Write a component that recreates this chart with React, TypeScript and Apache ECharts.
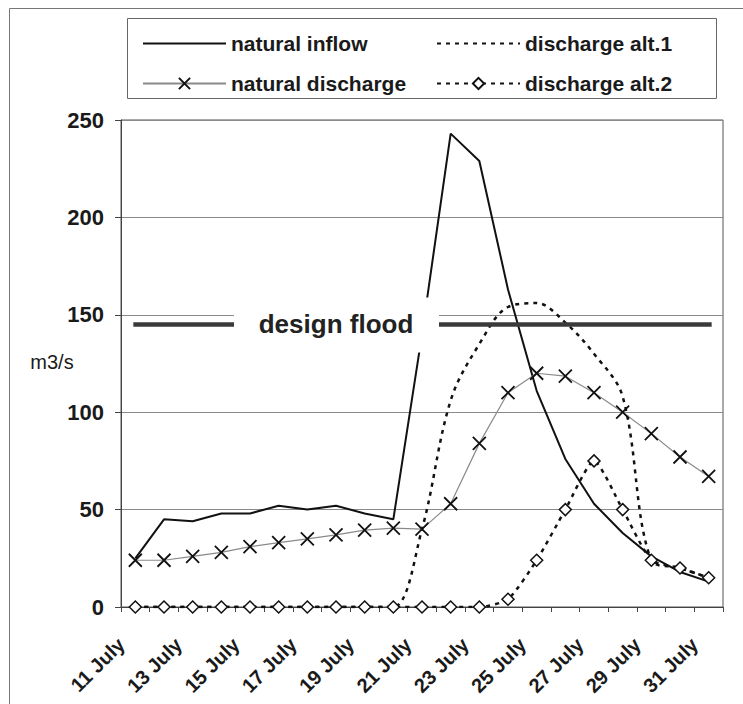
import React, { useEffect, useRef } from "react";
import * as echarts from "echarts";

const categories = [
  "11 July", "12 July", "13 July", "14 July", "15 July", "16 July", "17 July",
  "18 July", "19 July", "20 July", "21 July", "22 July", "23 July", "24 July",
  "25 July", "26 July", "27 July", "28 July", "29 July", "30 July", "31 July",
];
const naturalInflow = [25, 45, 44, 48, 48, 52, 50, 52, 48, 45, 140, 243, 229, 163, 111, 76, 53, 38, 26, 18, 13];
const naturalDischarge = [24, 24, 26, 28, 31, 33, 35, 37, 39.5, 40.5, 40, 53, 84, 110, 120, 118.5, 110, 100, 89, 77, 67];
const dischargeAlt1 = [0, 0, 0, 0, 0, 0, 0, 0, 0, 0, 40, 106, 135, 154, 156, 146, 130, 108, 24, 20, 15];
const dischargeAlt2 = [0, 0, 0, 0, 0, 0, 0, 0, 0, 0, 0, 0, 0, 4, 24, 50, 75, 50, 24, 20, 15];
const designFlood = 145;
const designFloodLabelAt = 6.64;
const yTicks = { min: 0, max: 250, interval: 50 };

const FONT = "'Liberation Sans', Arial, sans-serif";
const X_SYMBOL = "path://M0,0L10,10M10,0L0,10";

export default function App() {
  const ref = useRef<HTMLDivElement>(null);
  useEffect(() => {
    if (!ref.current) return;
    const chart = echarts.init(ref.current, null, { renderer: "svg" });
    const dotted = [4, 5];
    const legendText = { fontFamily: FONT, fontWeight: "bold", fontSize: 21, color: "#1a1a1a", lineHeight: 20 };
    const noSymbol = { opacity: 0 };
    chart.setOption({
      animation: false,
      backgroundColor: "#fff",
      textStyle: { fontFamily: FONT },
      grid: {
        left: 121, right: 20, top: 120, bottom: 97,
        show: true, borderColor: "#555", borderWidth: 1,
      },
      legend: [
        {
          data: [{ name: "natural inflow", itemStyle: noSymbol }, "natural discharge"],
          orient: "vertical", left: 137, top: 28,
          itemWidth: 83, itemHeight: 14, itemGap: 19,
          textStyle: legendText,
          selectedMode: false,
        },
        {
          data: [{ name: "discharge alt.1", itemStyle: noSymbol }, "discharge alt.2"],
          orient: "vertical", left: 431, top: 28,
          itemWidth: 83, itemHeight: 14, itemGap: 19,
          textStyle: legendText,
          selectedMode: false,
        },
      ],
      graphic: [
        { type: "rect", shape: { x: 9.5, y: 8.5, width: 900, height: 900 }, style: { fill: "none", stroke: "#777", lineWidth: 1 }, z: -1, silent: true },
        { type: "rect", shape: { x: 127.5, y: 18.5, width: 589, height: 80 }, style: { fill: "none", stroke: "#666", lineWidth: 1 }, silent: true },
        { type: "text", x: 52, y: 362, style: { text: "m3/s", font: `20px ${FONT}`, fill: "#1a1a1a", align: "center", verticalAlign: "middle" }, silent: true },
      ],
      xAxis: {
        type: "category",
        data: categories,
        boundaryGap: true,
        axisLine: { lineStyle: { color: "#444", width: 1 } },
        axisTick: { show: true, interval: 0, length: 5, lineStyle: { color: "#444" } },
        axisLabel: {
          interval: 1, rotate: 45, margin: 20,
          padding: [0, 20, 0, 0],
          fontFamily: FONT, fontWeight: "bold", fontSize: 20, color: "#1a1a1a",
        },
        splitLine: { show: false },
      },
      yAxis: {
        type: "value",
        min: yTicks.min, max: yTicks.max, interval: yTicks.interval,
        axisLine: { show: true, lineStyle: { color: "#444", width: 1 } },
        axisTick: { show: true, length: 6, lineStyle: { color: "#444" } },
        axisLabel: { margin: 17, fontFamily: FONT, fontWeight: "bold", fontSize: 22, color: "#1a1a1a" },
        splitLine: { show: true, lineStyle: { color: "#8a8a8a", width: 1 } },
      },
      series: [
        {
          name: "natural inflow", type: "line", data: naturalInflow,
          symbol: "none", showSymbol: false,
          lineStyle: { color: "#111", width: 2 },
          itemStyle: { color: "#111" },
          z: 3,
        },
        {
          name: "natural discharge", type: "line", data: naturalDischarge,
          symbol: X_SYMBOL, symbolSize: 13, showSymbol: true,
          lineStyle: { color: "#8a8a8a", width: 1.2 },
          itemStyle: { color: "#111", borderColor: "#111", borderWidth: 1.8 },
          z: 4,
        },
        {
          name: "discharge alt.1", type: "line", data: dischargeAlt1,
          symbol: "none", showSymbol: false, smooth: 0.35,
          lineStyle: { color: "#111", width: 2.5, type: dotted },
          itemStyle: { color: "#111" },
          z: 2,
        },
        {
          name: "discharge alt.2", type: "line", data: dischargeAlt2,
          symbol: "diamond", symbolSize: 12, showSymbol: true, smooth: 0.2,
          lineStyle: { color: "#111", width: 2.5, type: dotted },
          itemStyle: { color: "#fff", borderColor: "#111", borderWidth: 1.5 },
          z: 5,
        },
        {
          name: "design flood", type: "custom", z: 10,
          data: [[designFloodLabelAt, designFlood]],
          renderItem: (params: any, api: any) => {
            const y = api.value(1);
            const start = api.coord([0, y]);
            const end = api.coord([categories.length - 1, y]);
            const c = api.coord([api.value(0), y]);
            return {
              type: "group",
              children: [
                { type: "line", shape: { x1: start[0] - 2, y1: start[1], x2: end[0] + 3, y2: end[1] }, style: { stroke: "#3a3a3a", lineWidth: 4.5 } },
                { type: "rect", shape: { x: c[0] - 102, y: c[1] - 27, width: 205, height: 55 }, style: { fill: "#fff" } },
                { type: "text", x: c[0], y: c[1] - 1, style: { text: "design flood", font: `bold 26px ${FONT}`, fill: "#222", align: "center", verticalAlign: "middle" } },
              ],
            };
          },
        },
      ],
    });
    return () => chart.dispose();
  }, []);
  return <div ref={ref} style={{ position: "absolute", left: 0, top: 0, width: 743, height: 704 }} />;
}
